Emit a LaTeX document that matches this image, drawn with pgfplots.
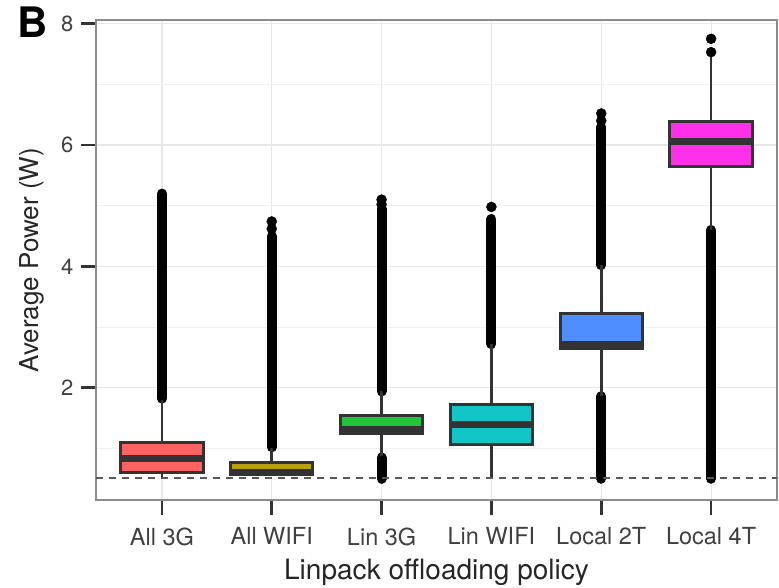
\documentclass[border=0pt]{standalone}
\usepackage{pgfplots}
\pgfplotsset{compat=1.18}
\usepgfplotslibrary{statistics}
\usepackage{fontspec}
\setmainfont{TeX Gyre Heros}
\definecolor{cA}{HTML}{FF6262}
\definecolor{cB}{HTML}{B8A10A}
\definecolor{cC}{HTML}{22C43A}
\definecolor{cD}{HTML}{12C6C8}
\definecolor{cE}{HTML}{4F8EFF}
\definecolor{cF}{HTML}{FF30E8}
\definecolor{edge}{HTML}{333333}
\begin{document}
\begin{tikzpicture}
\begin{axis}[
  name=ax,
  scale only axis,
  width=681bp, height=480bp,
  xmin=0.4, xmax=6.6,
  ymin=0.15, ymax=8.06,
  xtick={1,2,3,4,5,6},
  xticklabels={All 3G, All WIFI, Lin 3G, Lin WIFI, Local 2T, Local 4T},
  ytick={2,4,6,8},
  minor ytick={1,3,5,7},
  grid=both,
  major grid style={line width=1.2bp, black!9},
  minor grid style={line width=1bp, black!6},
  axis line style={line width=1.6bp, black!45},
  tick align=outside,
  xtick pos=bottom, ytick pos=left,
  major tick length=15bp,
  minor tick length=0bp,
  every tick/.style={line width=2.5bp, edge},
  /pgf/number format/assume math mode=true,
  yticklabel style={font=\fontsize{22bp}{26bp}\selectfont, text=black!75, xshift=-4bp},
  xticklabel style={font=\fontsize{23.5bp}{26bp}\selectfont, text=black!75, yshift=-9bp},
  xlabel style={font=\fontsize{28bp}{30bp}\selectfont, text=black!85},
  ylabel style={font=\fontsize{26bp}{30bp}\selectfont, text=black!85},
  xlabel={Linpack offloading policy},
  ylabel={Average Power (W)},
  ylabel style={at={(axis description cs:-0.094,0.5)}, anchor=center},
  xlabel style={at={(axis description cs:0.5,0)}, anchor=base, yshift=-79bp},
  boxplot/draw direction=y,
  boxplot/every median/.style={line width=7bp},
  boxplot/every whisker/.style={line width=2.5bp},
  boxplot/whisker extend=0,
  boxplot/box extend=0.75,
]
% outlier bands (dense outliers)
\addplot[black, line width=10bp, line cap=round] coordinates {(1,1.82) (1,5.20)};
\addplot[black, line width=10bp, line cap=round] coordinates {(2,1.02) (2,4.50)};
\addplot[black, line width=10bp, line cap=round] coordinates {(3,1.94) (3,4.95)};
\addplot[black, line width=10bp, line cap=round] coordinates {(3,0.50) (3,0.85)};
\addplot[black, line width=10bp, line cap=round] coordinates {(4,2.72) (4,4.78)};
\addplot[black, line width=10bp, line cap=round] coordinates {(5,4.02) (5,6.30)};
\addplot[black, line width=10bp, line cap=round] coordinates {(5,0.50) (5,1.86)};
\addplot[black, line width=10bp, line cap=round] coordinates {(6,0.50) (6,4.60)};
% separate outlier points
\addplot[only marks, mark=*, mark size=5bp, black] coordinates {
 (2,4.74) (2,4.62) (3,5.10) (3,5.02) (4,4.98) (5,6.52) (5,6.40) (6,7.75) (6,7.53)};
% boxes
\addplot[boxplot prepared={draw position=1, lower whisker=0.52, lower quartile=0.61, median=0.83, upper quartile=1.10, upper whisker=1.80}, draw=edge, line width=3bp, fill=cA] coordinates {};
\addplot[boxplot prepared={draw position=2, lower whisker=0.55, lower quartile=0.57, median=0.60, upper quartile=0.76, upper whisker=1.00}, draw=edge, line width=3bp, fill=cB] coordinates {};
\addplot[boxplot prepared={draw position=3, lower whisker=0.87, lower quartile=1.24, median=1.31, upper quartile=1.54, upper whisker=1.94}, draw=edge, line width=3bp, fill=cC] coordinates {};
\addplot[boxplot prepared={draw position=4, lower whisker=0.51, lower quartile=1.06, median=1.39, upper quartile=1.72, upper whisker=2.72}, draw=edge, line width=3bp, fill=cD] coordinates {};
\addplot[boxplot prepared={draw position=5, lower whisker=1.86, lower quartile=2.64, median=2.71, upper quartile=3.22, upper whisker=4.02}, draw=edge, line width=3bp, fill=cE] coordinates {};
\addplot[boxplot prepared={draw position=6, lower whisker=4.60, lower quartile=5.65, median=6.06, upper quartile=6.39, upper whisker=7.50}, draw=edge, line width=3bp, fill=cF] coordinates {};
% reference line
\addplot[black!65, line width=2bp, dash pattern=on 7bp off 6bp] coordinates {(0.4,0.52) (6.6,0.52)};
\end{axis}
\node[anchor=base west, font=\bfseries\fontsize{42bp}{42bp}\selectfont] at ([xshift=-82bp, yshift=-18bp]ax.north west) {B};
\pgfresetboundingbox
\path[use as bounding box] ([xshift=-96bp,yshift=-87bp]ax.south west) rectangle ([xshift=2bp,yshift=20bp]ax.north east);
\end{tikzpicture}
\end{document}
